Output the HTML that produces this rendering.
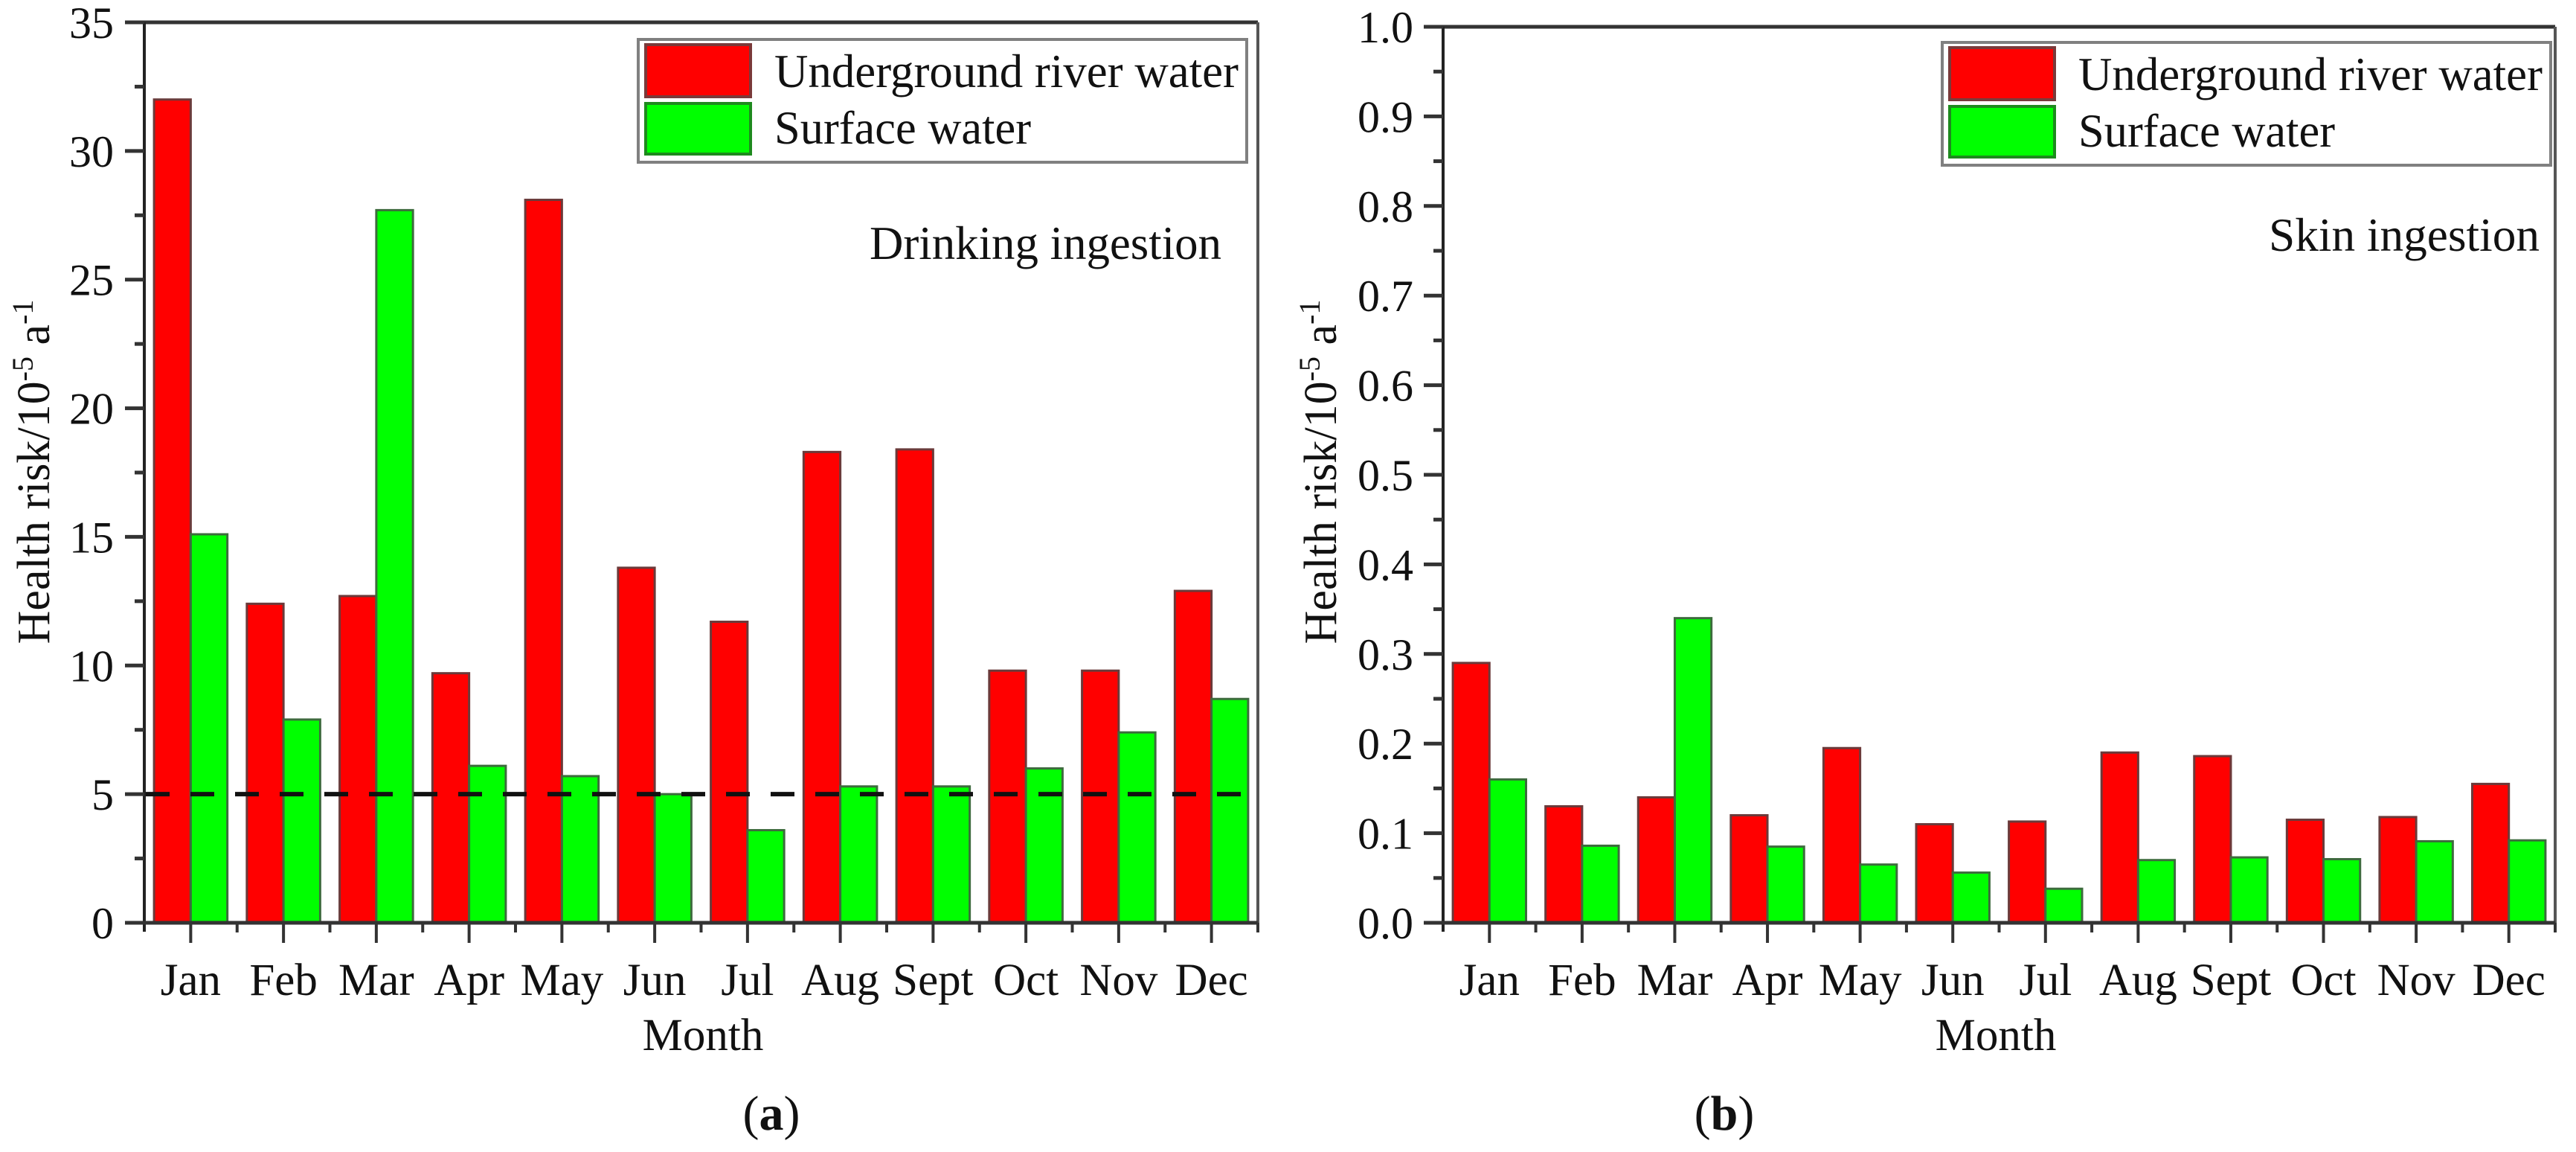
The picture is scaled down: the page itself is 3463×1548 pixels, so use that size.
<!DOCTYPE html>
<html><head><meta charset="utf-8"><style>
html,body{margin:0;padding:0;background:#fff;}
svg{display:block;font-family:"Liberation Serif",serif;}
svg text{font-family:"Liberation Serif",serif;}
</style></head><body>
<svg id="fig" width="3463" height="1548" viewBox="0 0 3463 1548" xmlns="http://www.w3.org/2000/svg" font-family="Liberation Serif, serif"></svg>
<script>
const months = ["Jan","Feb","Mar","Apr","May","Jun","Jul","Aug","Sept","Oct","Nov","Dec"];
const drinkUnderground = [32.0,12.4,12.7,9.7,28.1,13.8,11.7,18.3,18.4,9.8,9.8,12.9];
const drinkSurface = [15.1,7.9,27.7,6.1,5.7,5.0,3.6,5.3,5.3,6.0,7.4,8.7];
const skinUnderground = [0.29,0.13,0.14,0.12,0.195,0.11,0.113,0.19,0.186,0.115,0.118,0.155];
const skinSurface = [0.16,0.086,0.34,0.085,0.065,0.056,0.038,0.07,0.073,0.071,0.091,0.092];
const ticksA = [0,5,10,15,20,25,30,35];
const ticksB = [0.0,0.1,0.2,0.3,0.4,0.5,0.6,0.7,0.8,0.9,1.0];
const thresholdA = 5;

const NS="http://www.w3.org/2000/svg";
const svg=document.getElementById('fig');
const FF='"Liberation Serif", serif';
function mk(tag,attrs,parent){const e=document.createElementNS(NS,tag);for(const k in attrs)e.setAttribute(k,attrs[k]);if(tag==='text')e.style.fontFamily=FF;(parent||svg).appendChild(e);return e;}

function drawPanel(cfg){
  const g=mk('g',{});
  
  
  const {x0,x1,y0,yTop,max}=cfg;
  const yScale=v=>y0-(v/max)*(y0-yTop);
  const gw=(x1-x0)/months.length;
  const xGroup=i=>x0+gw*i;
  const bw=gw*0.395;
  months.forEach((m,i)=>{
    const c=xGroup(i)+gw/2;
    const r=mk('rect',{x:c-bw,y:yScale(cfg.a[i]),width:bw,height:y0-yScale(cfg.a[i]),fill:'#ff0000',stroke:'#6b3a3a','stroke-width':3},g);
    
    
    const s=mk('rect',{x:c,y:yScale(cfg.b[i]),width:bw,height:y0-yScale(cfg.b[i]),fill:'#00ff00',stroke:'#3d6b3d','stroke-width':3},g);
    
    
  });
  if(cfg.threshold!==undefined){
    const l=mk('line',{x1:x0+2,x2:x1,y1:yScale(cfg.threshold),y2:yScale(cfg.threshold),stroke:'#111','stroke-width':6,'stroke-dasharray':'32 28'},g);
    
    
  }
  mk('line',{x1:x0,x2:x1,y1:yTop,y2:yTop,stroke:'#333','stroke-width':5},g);
  mk('line',{x1:x1,x2:x1,y1:yTop,y2:y0,stroke:'#555','stroke-width':4},g);
  mk('line',{x1:x0,x2:x0,y1:yTop,y2:y0+12,stroke:'#222','stroke-width':4},g);
  mk('line',{x1:x0-26,x2:x1,y1:y0,y2:y0,stroke:'#333','stroke-width':5},g);
  cfg.ticks.forEach((t,i)=>{
    const y=yScale(t);
    mk('line',{x1:x0-26,x2:x0,y1:y,y2:y,stroke:'#333','stroke-width':5},g);
    const tx=mk('text',{x:cfg.labelRight,y:y+21,'text-anchor':'end','font-size':60,fill:'#111'},g);
    tx.textContent=cfg.fmt(t);
    
    
    if(i<cfg.ticks.length-1){
      const ym=yScale((t+cfg.ticks[i+1])/2);
      mk('line',{x1:x0-13,x2:x0,y1:ym,y2:ym,stroke:'#333','stroke-width':5},g);
    }
  });
  months.forEach((m,i)=>{
    const c=xGroup(i)+gw/2;
    mk('line',{x1:c,x2:c,y1:y0,y2:y0+27,stroke:'#333','stroke-width':4},g);
    mk('line',{x1:xGroup(i+1),x2:xGroup(i+1),y1:y0,y2:y0+13,stroke:'#333','stroke-width':4},g);
    const t=mk('text',{x:c,y:1337,'text-anchor':'middle','font-size':61,fill:'#111'},g);
    t.textContent=m;
    
    
  });
  const xt=mk('text',{x:cfg.monthX,y:1411,'text-anchor':'middle','font-size':61,fill:'#111'},g);
  xt.textContent='Month';
  
  
  const yt=mk('text',{transform:`translate(${cfg.yTitleX},634) rotate(-90)`,'text-anchor':'middle','font-size':62,fill:'#111'},g);
  yt.innerHTML='Health risk/10<tspan dy="-22" font-size="40">-5</tspan><tspan dy="22"> a</tspan><tspan dy="-22" font-size="40">-1</tspan>';
  
  
  const L=cfg.legend;
  const lg=mk('g',{},g);
  
  
  mk('rect',{x:L.x,y:L.y,width:L.w,height:165,fill:'#fff',stroke:'#808080','stroke-width':4},lg);
  mk('rect',{x:L.x+10,y:L.y+7,width:141,height:70,fill:'#ff0000',stroke:'#7a3a3a','stroke-width':4},lg);
  mk('rect',{x:L.x+10,y:L.y+86,width:141,height:68,fill:'#00ff00',stroke:'#1e8a1e','stroke-width':4},lg);
  const t1=mk('text',{x:L.x+183,y:L.y+64,'font-size':64,fill:'#111',textLength:624,lengthAdjust:'spacingAndGlyphs'},lg);
  t1.textContent='Underground river water';
  
  
  const t2=mk('text',{x:L.x+183,y:L.y+140,'font-size':64,fill:'#111',textLength:345,lengthAdjust:'spacingAndGlyphs'},lg);
  t2.textContent='Surface water';
  
  
  const an=mk('text',{x:cfg.annX,y:cfg.annY,'text-anchor':'end','font-size':64,fill:'#111',textLength:cfg.annLen,lengthAdjust:'spacingAndGlyphs'},g);
  an.textContent=cfg.ann;
  
  
  const pl=mk('text',{x:cfg.plX,y:1518,'text-anchor':'middle','font-size':66,fill:'#111'},g);
  pl.innerHTML='(<tspan font-weight="bold">'+cfg.pl+'</tspan>)';
  
  
}

drawPanel({name:'chart-drinking-ingestion',x0:194,x1:1691,y0:1240,yTop:30,max:35,a:drinkUnderground,b:drinkSurface,
  ticks:ticksA,fmt:v=>String(v),labelRight:153,threshold:thresholdA,monthX:945,yTitleX:66,
  legend:{x:858,y:53,w:818},ann:'Drinking ingestion',annX:1642,annY:348,annLen:473,plX:1037,pl:'a'});
drawPanel({name:'chart-skin-ingestion',x0:1940,x1:3435,y0:1240,yTop:36,max:1.0,a:skinUnderground,b:skinSurface,
  ticks:ticksB,fmt:v=>v.toFixed(1),labelRight:1900,monthX:2683,yTitleX:1796,
  legend:{x:2611,y:57,w:818},ann:'Skin ingestion',annX:3414,annY:337,annLen:364,plX:2318,pl:'b'});
</script>
</body></html>
